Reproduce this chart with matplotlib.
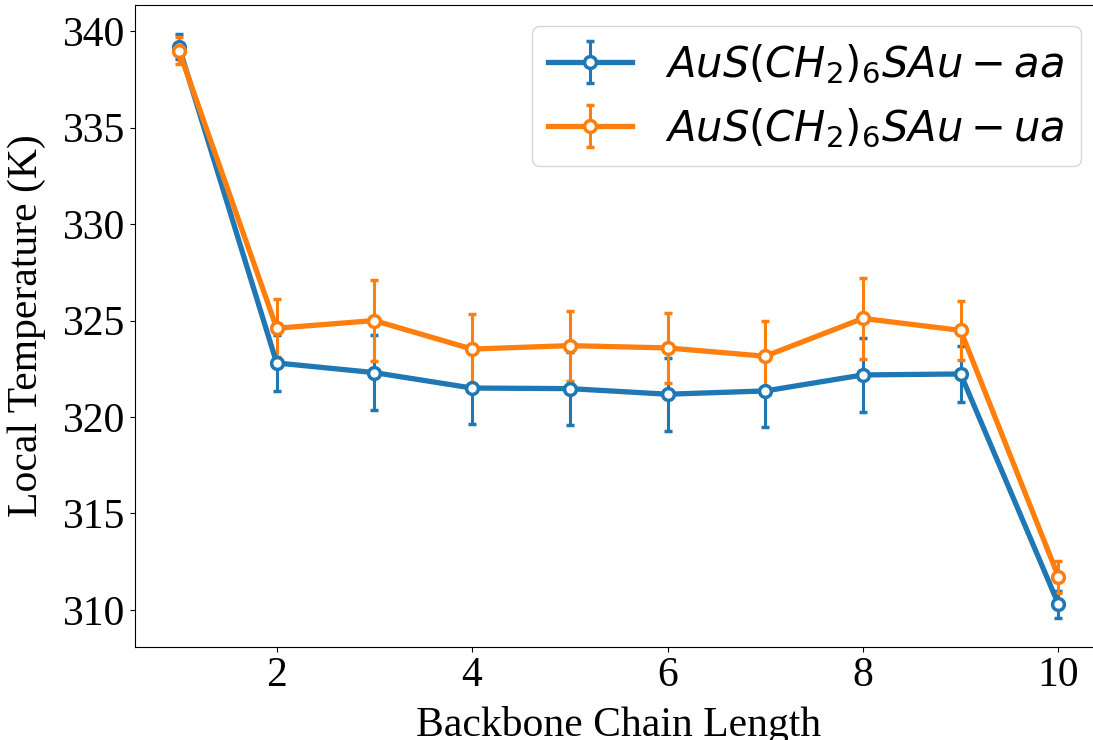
import matplotlib
matplotlib.use("Agg")
import matplotlib.pyplot as plt

chain_length = [1, 2, 3, 4, 5, 6, 7, 8, 9, 10]
temp_aa = [339.2, 322.8, 322.3, 321.5, 321.47, 321.18, 321.35, 322.18, 322.23, 310.3]
err_aa = [0.65, 1.45, 1.95, 1.87, 1.9, 1.9, 1.87, 1.92, 1.44, 0.7]
temp_ua = [339.0, 324.6, 325.0, 323.52, 323.7, 323.58, 323.15, 325.11, 324.49, 311.72]
err_ua = [0.7, 1.5, 2.12, 1.8, 1.82, 1.82, 1.84, 2.1, 1.54, 0.83]
label_aa = r"$AuS(CH_2)_6SAu-aa$"
label_ua = r"$AuS(CH_2)_6SAu-ua$"
xlabel = "Backbone Chain Length"
ylabel = "Local Temperature (K)"

plt.rcParams["font.family"] = ["Liberation Serif", "DejaVu Serif"]
plt.rcParams["mathtext.fontset"] = "dejavusans"

fig = plt.figure(figsize=(10.93, 7.40), dpi=100)
W, H = 1093, 740
ax = fig.add_axes([135 / W, (740 - 646.7) / H, 967.3 / W, (646.7 - 5) / H])

common = dict(lw=3.8, marker="o", markersize=8.5, markerfacecolor="white",
              markeredgewidth=2.5, capsize=3, capthick=2.2, elinewidth=2.2)
ax.errorbar(chain_length, temp_aa, yerr=err_aa, color="#1f77b4", label=label_aa, **common)
ax.errorbar(chain_length, temp_ua, yerr=err_ua, color="#ff7f0e", label=label_ua, **common)

ax.set_xticks([2, 4, 6, 8, 10])
ax.set_yticks([310, 315, 320, 325, 330, 335, 340])
ax.tick_params(labelsize=30)
ax.set_xlabel(xlabel, fontsize=30, labelpad=8)
ax.set_ylabel(ylabel, fontsize=30, labelpad=12)
ax.legend(loc="upper right", fontsize=30)

fig.savefig("out.png", dpi=100)
